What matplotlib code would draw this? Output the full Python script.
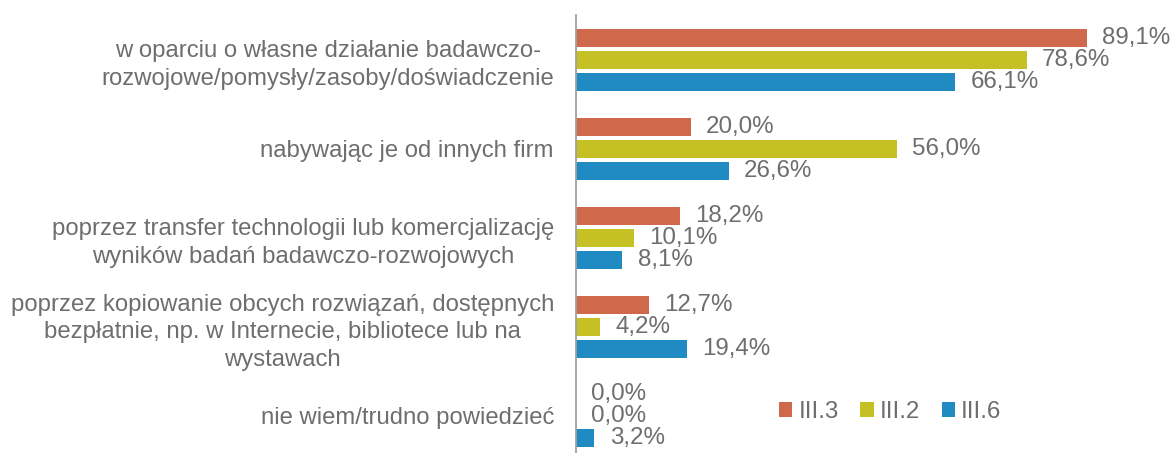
import matplotlib.pyplot as plt
import numpy as np

plt.rcParams['font.family'] = ['Liberation Sans', 'DejaVu Sans']

categories = [
    "w oparciu o własne działanie badawczo-\nrozwojowe/pomysły/zasoby/doświadczenie",
    "nabywając je od innych firm",
    "poprzez transfer technologii lub komercjalizację\nwyników badań badawczo-rozwojowych",
    "poprzez kopiowanie obcych rozwiązań, dostępnych\nbezpłatnie, np. w Internecie, bibliotece lub na\nwystawach",
    "nie wiem/trudno powiedzieć",
]
series_names = ["III.3", "III.2", "III.6"]
iii3 = [89.1, 20.0, 18.2, 12.7, 0.0]
iii2 = [78.6, 56.0, 10.1, 4.2, 0.0]
iii6 = [66.1, 26.6, 8.1, 19.4, 3.2]
colors = ["#D0694C", "#C5C024", "#208AC3"]
txt_color = "#6E6E6E"

fig = plt.figure(figsize=(11.73, 4.53), dpi=100)
ax = fig.add_axes([0.491, 0.0, 0.509, 0.967])

y = np.arange(len(categories))
offsets = [-0.25, 0.0, 0.25]
for vals, off, c, name in zip([iii3, iii2, iii6], offsets, colors, series_names):
    bars = ax.barh(y + off, vals, height=0.2, color=c, label=name)
    for b, v in zip(bars, vals):
        ax.annotate(f"{v:.1f}%".replace(".", ","), (b.get_width(), b.get_y() + b.get_height() / 2),
                    xytext=(11, 0), textcoords="offset points", va="center", ha="left",
                    fontsize=17.4, color=txt_color)

ax.set_xlim(0, 104.1)
ax.set_ylim(4.416, -0.506)
ax.set_xticks([])
ax.set_yticks(y)
ax.set_yticklabels(categories, fontsize=17.2, color=txt_color, linespacing=1.35)
for t in ax.get_yticklabels():
    t.set_multialignment("center")
ax.tick_params(axis="y", length=0, pad=15.8)
for s in ["top", "right", "bottom"]:
    ax.spines[s].set_visible(False)
ax.spines["left"].set_color("#A0A0A0")
ax.spines["left"].set_linewidth(1.3)

leg = fig.legend(loc="center", bbox_to_anchor=(0.759, 0.0905), ncol=3, frameon=False,
                 fontsize=17.4, handlelength=0.55, handleheight=0.55, handletextpad=0.25,
                 columnspacing=0.9, labelcolor=txt_color)

fig.savefig("out.png", dpi=100)
